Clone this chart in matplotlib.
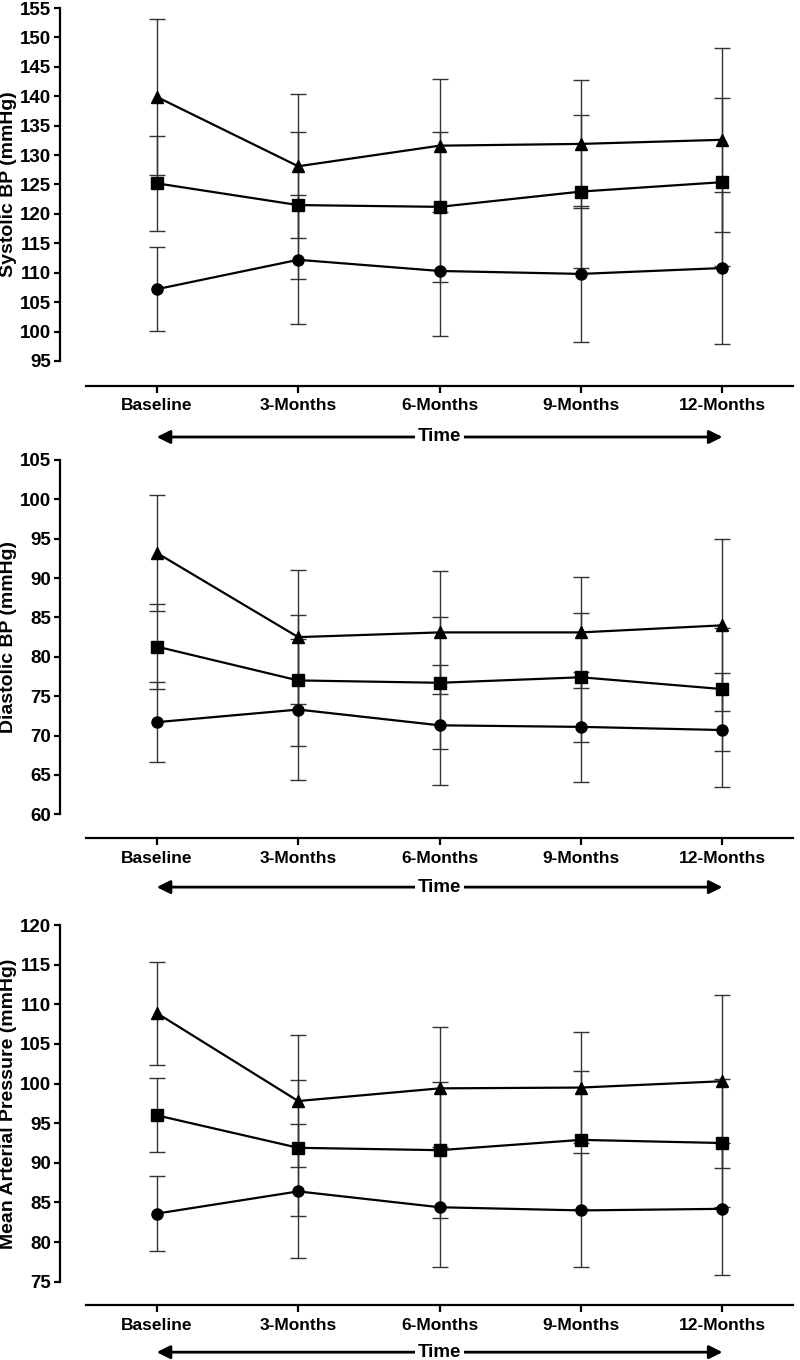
import numpy as np
import matplotlib
matplotlib.use('Agg')
import matplotlib.pyplot as plt


# ===== Data =====
categories = ['Baseline', '3-Months', '6-Months', '9-Months', '12-Months']

sbp_tri = [139.9, 128.1, 131.6, 131.9, 132.6]
sbp_tri_err = [13.3, 12.2, 11.3, 10.9, 15.6]
sbp_sq = [125.2, 121.5, 121.2, 123.8, 125.4]
sbp_sq_err = [8.1, 12.5, 12.7, 13.0, 14.3]
sbp_ci = [107.2, 112.2, 110.3, 109.8, 110.8]
sbp_ci_err = [7.1, 11.0, 11.0, 11.5, 12.95]

dbp_tri = [93.2, 82.5, 83.1, 83.1, 84.0]
dbp_tri_err = [7.4, 8.5, 7.8, 7.0, 10.9]
dbp_sq = [81.3, 77.0, 76.7, 77.4, 75.9]
dbp_sq_err = [5.4, 8.3, 8.4, 8.2, 7.8]
dbp_ci = [71.7, 73.3, 71.3, 71.1, 70.7]
dbp_ci_err = [5.1, 8.9, 7.6, 7.0, 7.2]

map_tri = [108.9, 97.8, 99.4, 99.5, 100.3]
map_tri_err = [6.5, 8.35, 7.7, 7.05, 10.9]
map_sq = [96.0, 91.9, 91.6, 92.9, 92.5]
map_sq_err = [4.65, 8.6, 8.6, 8.7, 8.1]
map_ci = [83.6, 86.4, 84.4, 84.0, 84.2]
map_ci_err = [4.7, 8.45, 7.6, 7.2, 8.3]


plt.rcParams['font.family'] = ['Liberation Sans', 'DejaVu Sans']
plt.rcParams['font.weight'] = 'bold'

fig = plt.figure(figsize=[8, 13.6], dpi=100)
x = np.arange(len(categories))


def panel(rect, ylo, yhi, ybottom, ylabel, series, arrow_y):
    ax = fig.add_axes(rect)

    # error bars first, then lines with markers on top
    for vals, errs, mk, ms in series:
        ax.errorbar(x, vals, yerr=errs, fmt='none', ecolor='#333333',
                    elinewidth=1.0, capsize=6, capthick=1.0, zorder=2, clip_on=False)
    for vals, errs, mk, ms in series:
        ax.plot(x, vals, color='black', lw=1.6, marker=mk, markersize=ms,
                markerfacecolor='black', markeredgecolor='black', zorder=3, clip_on=False)

    ax.set_xlim(-0.5, 4.5)
    ax.set_ylim(ybottom, yhi)
    ax.set_yticks(np.arange(ylo, yhi + 1, 5))
    ax.set_xticks(x)
    ax.set_xticklabels(categories)

    ax.spines['top'].set_visible(False)
    ax.spines['right'].set_visible(False)
    ax.spines['left'].set_bounds(ylo, yhi)
    ax.spines['left'].set_position(('outward', 18.5))
    ax.spines['left'].set_linewidth(1.6)
    ax.spines['bottom'].set_linewidth(1.6)
    ax.tick_params(axis='y', length=4.5, width=1.6, pad=2, labelsize=13.5)
    ax.tick_params(axis='x', length=5, width=1.6, pad=4, labelsize=12.5)

    ax.set_ylabel(ylabel, fontsize=14, fontweight='bold')
    mid = ((ylo + yhi) / 2 - ybottom) / (yhi - ybottom)
    ax.yaxis.set_label_coords(-0.098, mid)

    # Time arrow
    ax.annotate('', xy=(4, arrow_y), xytext=(0, arrow_y),
                xycoords=('data', 'axes fraction'), textcoords=('data', 'axes fraction'),
                arrowprops=dict(arrowstyle='<|-|>', color='black', lw=2, mutation_scale=20,
                                shrinkA=0, shrinkB=0),
                annotation_clip=False)
    ax.text(2, arrow_y, 'Time', transform=ax.get_xaxis_transform(), ha='center', va='center',
            fontsize=13.5, fontweight='bold',
            bbox=dict(boxstyle='square,pad=0.15', fc='white', ec='none'), clip_on=False)
    return ax


# ===== Panels =====
panel([0.1075, 0.7162, 0.884, 0.2779], 95, 155, 90.75, 'Systolic BP (mmHg)',
      [(sbp_tri, sbp_tri_err, '^', 8.5), (sbp_sq, sbp_sq_err, 's', 8), (sbp_ci, sbp_ci_err, 'o', 8)],
      -0.135)

panel([0.1075, 0.3836, 0.884, 0.2782], 60, 105, 56.95, 'Diastolic BP (mmHg)',
      [(dbp_tri, dbp_tri_err, '^', 8.5), (dbp_sq, dbp_sq_err, 's', 8), (dbp_ci, dbp_ci_err, 'o', 8)],
      -0.129)

panel([0.1075, 0.0404, 0.884, 0.2794], 75, 120, 72.06, 'Mean Arterial Pressure (mmHg)',
      [(map_tri, map_tri_err, '^', 8.5), (map_sq, map_sq_err, 's', 8), (map_ci, map_ci_err, 'o', 8)],
      -0.124)

plt.savefig('out.png', dpi=100)
